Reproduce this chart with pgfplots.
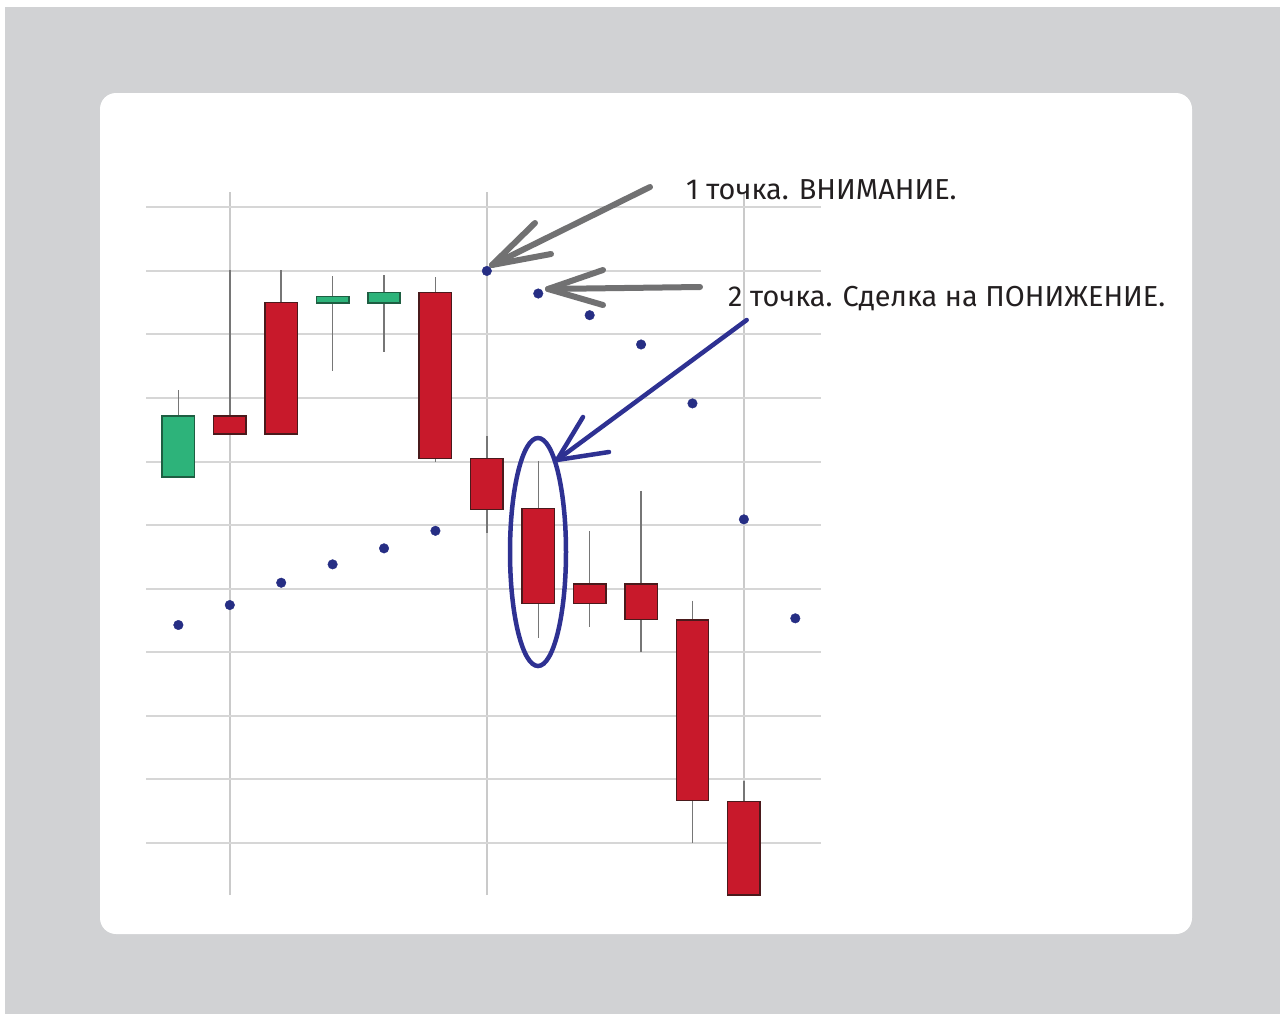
\documentclass[border=0pt]{standalone}
\usepackage{pgfplots}
\pgfplotsset{compat=1.18}
\usepackage{fontspec}
\setmainfont{Fira Sans}
\definecolor{bg}{HTML}{D1D2D4}
\definecolor{gridc}{HTML}{D6D6D6}
\definecolor{vgrid}{HTML}{CACACA}
\definecolor{cred}{HTML}{C8192B}
\definecolor{credb}{HTML}{4A1A1C}
\definecolor{cgreen}{HTML}{2DB37A}
\definecolor{cgreenb}{HTML}{1E5E42}
\definecolor{wick}{HTML}{767676}
\definecolor{dotc}{HTML}{262E84}
\definecolor{blu}{HTML}{2E3192}
\definecolor{arrg}{HTML}{717172}
\definecolor{txt}{HTML}{231F20}

% #1 index, #2 open, #3 close, #4 high, #5 low, #6 colour
\newcommand{\candle}[6]{%
  \pgfmathsetmacro\xl{#1-0.315}\pgfmathsetmacro\xr{#1+0.315}%
  \addplot[wick, line width=1.5bp] coordinates {(#1,#4) (#1,#5)};
  \addplot[draw=#6b, fill=#6, line width=1.5bp] coordinates {(\xl,#2) (\xr,#2) (\xr,#3) (\xl,#3)} -- cycle;
}

\begin{document}
\begin{tikzpicture}[x=1bp,y=1bp]
\fill[white] (0,0) rectangle (1280,-1014);
\fill[bg] (5,-7) rectangle (1280,-1014);
\fill[white, rounded corners=16bp] (100,-93) rectangle (1192,-934);

\begin{axis}[at={(146bp,-895bp)}, anchor=south west, scale only axis,
  width=675bp, height=703bp,
  xmin=-0.63, xmax=12.5, ymin=-0.82, ymax=10.24,
  axis line style={draw=none}, tick style={draw=none},
  xtick={1,6,11}, ytick={0,1,2,3,4,5,6,7,8,9,10},
  xticklabels={}, yticklabels={},
  grid=major,
  major x grid style={vgrid, line width=1.5bp},
  major y grid style={gridc, line width=2bp},
  clip=false]
\candle{0}{5.755}{6.714}{7.123}{5.755}{cgreen}
\candle{1}{6.714}{6.431}{9.01}{6.431}{cred}
\candle{2}{8.50}{6.431}{9.01}{6.431}{cred}
\candle{3}{8.49}{8.60}{8.915}{7.426}{cgreen}
\candle{4}{8.49}{8.66}{8.93}{7.725}{cgreen}
\candle{5}{8.66}{6.05}{8.895}{6.0}{cred}
\candle{6}{6.05}{5.247}{6.40}{4.87}{cred}
\candle{7}{5.26}{3.769}{6.01}{3.219}{cred}
\candle{8}{4.072}{3.769}{4.906}{3.392}{cred}
\candle{9}{4.072}{3.517}{5.54}{3.008}{cred}
\candle{10}{3.506}{0.665}{3.81}{0.0}{cred}
\candle{11}{0.649}{-0.818}{0.975}{-0.818}{cred}
\addplot[only marks, mark=*, mark size=4.8pt, mark options={draw=dotc, fill=dotc}] coordinates {
(0,3.428) (1,3.742) (2,4.093) (3,4.382) (4,4.634) (5,4.910)
(6,8.998) (7,8.643) (8,8.302) (9,7.841) (10,6.914) (11,5.090) (12,3.533)};
\end{axis}

% annotations
\draw[arrg, line width=6bp, line cap=round, line join=round] (650,-187) -- (492,-265);
\draw[arrg, line width=6bp, line cap=round, line join=round] (535,-223) -- (492,-265) -- (551,-254);
\draw[arrg, line width=6bp, line cap=round, line join=round] (700,-287) -- (548,-289);
\draw[arrg, line width=6bp, line cap=round, line join=round] (603,-270) -- (548,-289) -- (603,-305);
\draw[blu, line width=4.5bp, line cap=round, line join=round] (746.7,-320) -- (557,-460);
\draw[blu, line width=4.5bp, line cap=round, line join=round] (583,-417) -- (557,-460) -- (609,-452);
\draw[blu, line width=4.5bp] (538,-552) ellipse [x radius=28bp, y radius=114bp];

\node[anchor=base west, inner sep=0pt, text=txt, font=\fontsize{29}{33}\selectfont] at (686,-199) {1 точка. ВНИМАНИЕ.};
\node[anchor=base west, inner sep=0pt, text=txt, font=\fontsize{29}{33}\selectfont] at (728,-306) {2 точка. Сделка на ПОНИЖЕНИЕ.};
\end{tikzpicture}
\end{document}
